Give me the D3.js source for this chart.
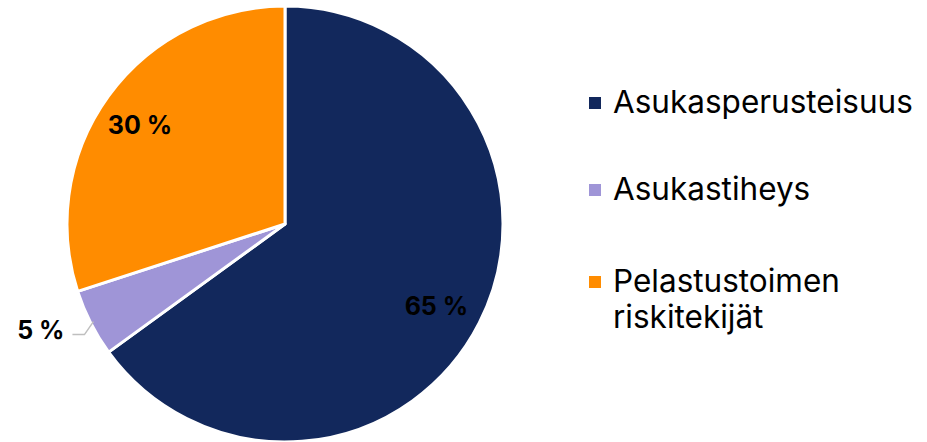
<!DOCTYPE html>
<html>
<head>
<meta charset="utf-8">
<script src="https://cdn.jsdelivr.net/npm/d3@7"></script>
<style>
  body { margin: 0; background: #fff; }
  svg { display: block; font-family: Inter, "Noto Sans", sans-serif; }
</style>
</head>
<body>
<div id="container"></div>
<script>
// chart data
let categories = ["Asukasperusteisuus", "Asukastiheys", "Pelastustoimen riskitekijät"];
let legendLines = [["Asukasperusteisuus"], ["Asukastiheys"], ["Pelastustoimen", "riskitekijät"]];
let shares = [65, 5, 30];
let colors = ["#12285c", "#9f95d7", "#ff8c00"];

let w = 927;
let h = 442;
let cx = 285;
let cy = 224;
let r = 218;

let viz = d3.select("#container")
  .append("svg")
    .attr("width", w)
    .attr("height", h)
;

let data = categories.map(function(c, i){
  return { name: c, value: shares[i], color: colors[i], lines: legendLines[i] };
});

let pie = d3.pie().sort(null).value(d => d.value);
let arcs = pie(data);

let arcMaker = d3.arc().innerRadius(0).outerRadius(r);
let labelArc = d3.arc().innerRadius(r * 0.8).outerRadius(r * 0.8);

let pieGroup = viz.append("g")
    .attr("transform", "translate(" + cx + "," + cy + ")");

pieGroup.selectAll(".slice").data(arcs).enter()
  .append("path")
    .attr("class", "slice")
    .attr("d", arcMaker)
    .attr("fill", d => d.data.color)
    .attr("stroke", "#fff")
    .attr("stroke-width", 3)
    .attr("stroke-linejoin", "round")
;

// labels: big slices inside, small slice outside with leader line
arcs.forEach(function(d){
  let txt = d.data.value + " %";
  if (d.data.value >= 10) {
    let c = labelArc.centroid(d);
    pieGroup.append("text")
      .attr("x", c[0] - 4)
      .attr("y", c[1] + 3)
      .attr("text-anchor", "middle")
      .attr("dominant-baseline", "central")
      .attr("font-size", 25)
      .attr("font-weight", "bold")
      .attr("fill", "#000")
      .text(txt);
  } else {
    let mid = (d.startAngle + d.endAngle) / 2;
    let sx = Math.sin(mid) * (r - 3);
    let sy = -Math.cos(mid) * (r - 3);
    let ex = sx - 9, ey = sy + 13;
    let tx = ex - 12;
    pieGroup.append("polyline")
      .attr("points", [[sx, sy], [ex, ey], [tx, ey]].map(p => p.join(",")).join(" "))
      .attr("fill", "none")
      .attr("stroke", "#bfbfbf")
      .attr("stroke-width", 1.5);
    pieGroup.append("text")
      .attr("x", tx - 8)
      .attr("y", ey - 5)
      .attr("text-anchor", "end")
      .attr("dominant-baseline", "central")
      .attr("font-size", 25)
      .attr("font-weight", "bold")
      .attr("fill", "#000")
      .text(txt);
  }
});

// legend
let legendY = d3.scaleOrdinal().domain(categories).range([113, 200, 292]);
let legend = viz.append("g").attr("class", "legend");
data.forEach(function(d){
  let y = legendY(d.name);
  legend.append("rect")
    .attr("x", 589)
    .attr("y", y - 16)
    .attr("width", 12)
    .attr("height", 12)
    .attr("fill", d.color);
  let t = legend.append("text")
    .attr("x", 613)
    .attr("y", y)
    .attr("font-size", 31.5)
    .attr("fill", "#000");
  d.lines.forEach(function(line, j){
    t.append("tspan")
      .attr("x", 613)
      .attr("dy", j === 0 ? 0 : 36)
      .text(line);
  });
});
</script>
</body>
</html>
